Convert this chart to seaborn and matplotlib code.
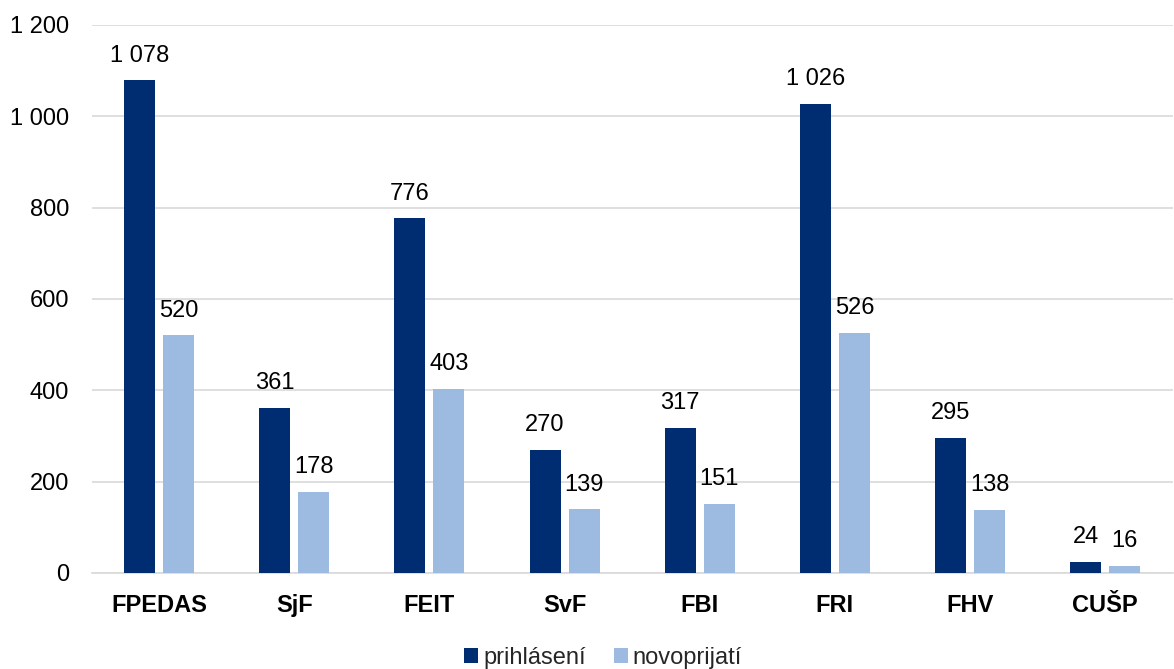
import matplotlib
matplotlib.use("Agg")
import matplotlib.pyplot as plt
import seaborn as sns
import pandas as pd

categories = ["FPEDAS", "SjF", "FEIT", "SvF", "FBI", "FRI", "FHV", "CUŠP"]
prihlaseni = [1078, 361, 776, 270, 317, 1026, 295, 24]
novoprijati = [520, 178, 403, 139, 151, 526, 138, 16]
series_names = ["prihlásení", "novoprijatí"]
y_ticks = [0, 200, 400, 600, 800, 1000, 1200]

df = pd.DataFrame({
    "fakulta": categories * 2,
    "hodnota": prihlaseni + novoprijati,
    "séria": [series_names[0]] * len(categories) + [series_names[1]] * len(categories),
})

sns.set_theme(style="white")
plt.rcParams["font.family"] = ["Liberation Sans", "DejaVu Sans"]

fig = plt.figure(figsize=(11.74, 6.69), dpi=100)
ax = fig.add_axes([0.078, 0.1435, 0.921, 0.8195])

palette = {series_names[0]: "#002D72", series_names[1]: "#9DBBE1"}
sns.barplot(data=df, x="fakulta", y="hodnota", hue="séria", palette=palette,
            width=0.577, gap=0.205, ax=ax, saturation=1, legend=True, zorder=3,
            linewidth=0)

def fmt(v):
    return f"{int(v):,}".replace(",", " ")

for cont in ax.containers:
    ax.bar_label(cont, labels=[fmt(v) for v in cont.datavalues], padding=10,
                 fontsize=17, color="#000000")

ax.set_ylim(0, 1200)
ax.set_yticks(y_ticks)
ax.set_yticklabels([fmt(v) for v in y_ticks], fontsize=17, color="#000000")
ax.set_xlim(-0.5, len(categories) - 0.5)
ax.set_xticks(range(len(categories)))
ax.set_xticklabels(categories, fontsize=17, fontweight="bold", color="#000000")
ax.tick_params(axis="both", length=0)
ax.tick_params(axis="y", pad=16)
ax.tick_params(axis="x", pad=15)
ax.set_xlabel("")
ax.set_ylabel("")
ax.grid(axis="y", color="#D9D9D9", linewidth=1.2, zorder=0)
ax.set_axisbelow(True)
for s in ["top", "right", "left"]:
    ax.spines[s].set_visible(False)
ax.spines["bottom"].set_color("#D9D9D9")
ax.spines["bottom"].set_linewidth(1.2)

leg = ax.legend(loc="center", bbox_to_anchor=(0.473, -0.155), ncol=2, frameon=False,
                fontsize=17, handlelength=0.6, handleheight=0.6, handletextpad=0.2,
                columnspacing=1.2, borderpad=0)

fig.savefig("out.png", dpi=100)
